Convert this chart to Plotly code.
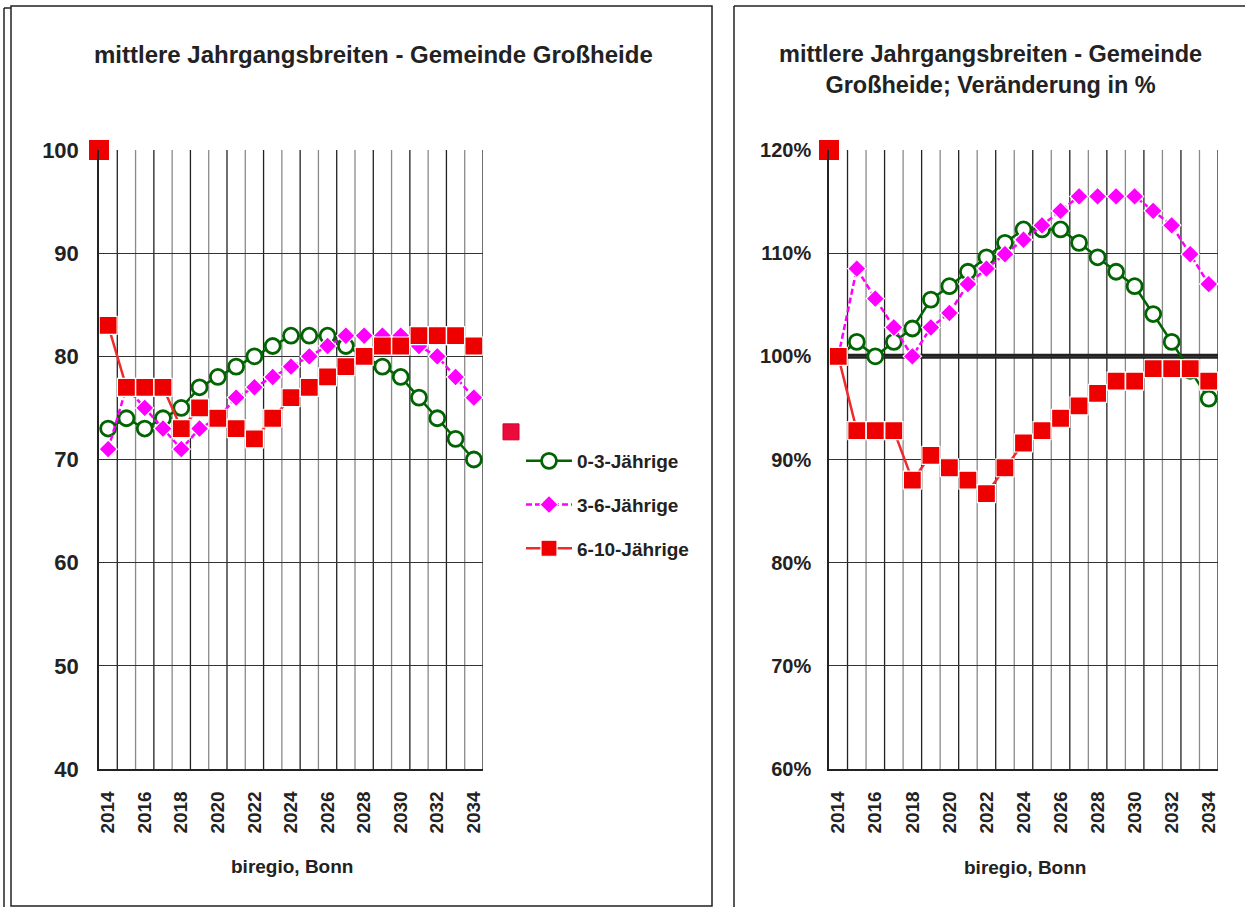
import plotly.graph_objects as go

# Jahre der Vorausberechnung
years = list(range(2014, 2035))
tick_years = years[::2]

# mittlere Jahrgangsbreiten (Personen je Altersjahrgang)
jb_0_3 = [73, 74, 73, 74, 75, 77, 78, 79, 80, 81, 82, 82, 82, 81, 80, 79, 78, 76, 74, 72, 70]
jb_3_6 = [71, 77, 75, 73, 71, 73, 74, 76, 77, 78, 79, 80, 81, 82, 82, 82, 82, 81, 80, 78, 76]
jb_6_10 = [83, 77, 77, 77, 73, 75, 74, 73, 72, 74, 76, 77, 78, 79, 80, 81, 81, 82, 82, 82, 81]

# Veränderung gegenüber 2014 in %
pct_0_3 = [100.0, 101.4, 100.0, 101.4, 102.7, 105.5, 106.8, 108.2, 109.6, 111.0, 112.3,
           112.3, 112.3, 111.0, 109.6, 108.2, 106.8, 104.1, 101.4, 98.6, 95.9]
pct_3_6 = [100.0, 108.5, 105.6, 102.8, 100.0, 102.8, 104.2, 107.0, 108.5, 109.9, 111.3,
           112.7, 114.1, 115.5, 115.5, 115.5, 115.5, 114.1, 112.7, 109.9, 107.0]
pct_6_10 = [100.0, 92.8, 92.8, 92.8, 88.0, 90.4, 89.2, 88.0, 86.7, 89.2, 91.6,
            92.8, 94.0, 95.2, 96.4, 97.6, 97.6, 98.8, 98.8, 98.8, 97.6]

# Indexmarken am Achsenursprung und Bezugslinie
index_abs = [100]
index_pct = [120]
basis_pct = 100

names = ["0-3-Jährige", "3-6-Jährige", "6-10-Jährige"]

W, H = 1245, 907


def px(x):
    return x / W


def py(y):
    return 1 - y / H


TXT = "Liberation Sans, Arial, sans-serif"
INK = "#222222"

GREEN = "#006400"
MAGENTA = "#FF00FF"
RED = "#EE0000"

styles = [
    dict(mode="lines+markers",
         line=dict(color=GREEN, width=2.5),
         marker=dict(symbol="circle", size=15, color="white", line=dict(color=GREEN, width=2.8))),
    dict(mode="lines+markers",
         line=dict(color=MAGENTA, width=2.5, dash="6px,3px"),
         marker=dict(symbol="diamond", size=14, color=MAGENTA, line=dict(color="white", width=1.2))),
    dict(mode="lines+markers",
         line=dict(color="#EE2a2a", width=2.5),
         marker=dict(symbol="square", size=18, color=RED, line=dict(color="white", width=1.2))),
]

fig = go.Figure()

# linkes Diagramm: absolute Werte
for i, (nm, vals) in enumerate(zip(names, [jb_0_3, jb_3_6, jb_6_10])):
    fig.add_trace(go.Scatter(x=years, y=vals, name=nm, xaxis="x", yaxis="y",
                             legendgroup=nm, cliponaxis=False, **styles[i]))

fig.add_trace(go.Scatter(x=[years[0] - 0.5], y=index_abs, mode="markers", xaxis="x", yaxis="y",
                         marker=dict(symbol="square", size=20, color=RED), cliponaxis=False,
                         showlegend=False, hoverinfo="skip"))
fig.add_trace(go.Scatter(x=[None], y=[None], mode="markers", name="", legend="legend2",
                         marker=dict(symbol="square", size=20, color="#EA0A3C",
                                     line=dict(color="#D0002a", width=1))))

# rechtes Diagramm: Veränderung in %
for i, (nm, vals) in enumerate(zip(names, [pct_0_3, pct_3_6, pct_6_10])):
    fig.add_trace(go.Scatter(x=years, y=vals, name=nm, xaxis="x2", yaxis="y2",
                             showlegend=False, cliponaxis=False, **styles[i]))

fig.add_trace(go.Scatter(x=[years[0] - 0.5], y=index_pct, mode="markers", xaxis="x2", yaxis="y2",
                         marker=dict(symbol="square", size=20, color=RED), cliponaxis=False,
                         showlegend=False, hoverinfo="skip"))

xrange = [years[0] - 0.5, years[-1] + 0.5]
tickfont_x = dict(family=TXT, size=19, color=INK, weight="bold")


def x_axis(domain, anchor):
    return dict(domain=domain, anchor=anchor, range=xrange, tickmode="array",
                tickvals=tick_years, ticktext=[str(y) for y in tick_years], tickangle=-90,
                showgrid=False, zeroline=False, showline=True, linecolor=INK, linewidth=1.5,
                ticks="", ticklabelstandoff=13, tickfont=tickfont_x, fixedrange=True,
                automargin=False)


def y_axis(domain, anchor, rng, suffix, fsize, standoff):
    return dict(domain=domain, anchor=anchor, range=rng, tickmode="linear", tick0=rng[0], dtick=10,
                ticksuffix=suffix, showgrid=True, gridcolor="#333333", gridwidth=1.2,
                zeroline=False, showline=True, linecolor=INK, linewidth=1.5, ticks="",
                ticklabelstandoff=standoff, automargin=False,
                tickfont=dict(family=TXT, size=fsize, color=INK, weight="bold"), fixedrange=True)


ydom = [py(769), py(150)]

shapes = []
# senkrechte Gitterlinien zwischen den Jahren
for xref, yref in [("x", "y"), ("x2", "y2")]:
    for k, yr in enumerate(years):
        shapes.append(dict(type="line", xref=xref, yref=yref, x0=yr + 0.5, x1=yr + 0.5,
                           y0=(40 if yref == "y" else 60), y1=(100 if yref == "y" else 120),
                           layer="below",
                           line=dict(color=INK if k % 2 == 0 else "#8a8a8a", width=1.3)))

# Bezugslinie 100 % im rechten Diagramm
shapes.append(dict(type="line", xref="x2", yref="y2", x0=xrange[0], x1=xrange[1],
                   y0=basis_pct, y1=basis_pct, layer="below", line=dict(color=INK, width=5)))

# Rahmen der beiden Diagrammblätter
frame = dict(color=INK, width=1.5)
shapes.append(dict(type="rect", xref="paper", yref="paper", x0=px(11), x1=px(712), y0=py(906), y1=py(6),
                   line=frame, layer="above"))
shapes.append(dict(type="line", xref="paper", yref="paper", x0=px(4), x1=px(4), y0=py(907), y1=py(8),
                   line=frame, layer="above"))
shapes.append(dict(type="line", xref="paper", yref="paper", x0=px(4), x1=px(11), y0=py(8), y1=py(8),
                   line=frame, layer="above"))
shapes.append(dict(type="line", xref="paper", yref="paper", x0=px(734), x1=px(734), y0=py(907), y1=py(6),
                   line=frame, layer="above"))
shapes.append(dict(type="line", xref="paper", yref="paper", x0=px(734), x1=px(1245), y0=py(6), y1=py(6),
                   line=frame, layer="above"))

annotations = [
    dict(text="mittlere Jahrgangsbreiten - Gemeinde Großheide", x=px(373), y=py(55),
         xref="paper", yref="paper", showarrow=False, xanchor="center", yanchor="middle",
         font=dict(family=TXT, size=24, color=INK, weight="bold")),
    dict(text="mittlere Jahrgangsbreiten - Gemeinde<br>Großheide; Veränderung in %", x=px(990), y=py(70),
         xref="paper", yref="paper", showarrow=False, xanchor="center", yanchor="middle",
         font=dict(family=TXT, size=23.5, color=INK, weight="bold")),
    dict(text="biregio, Bonn", x=px(292), y=py(866), xref="paper", yref="paper", showarrow=False,
         xanchor="center", yanchor="middle", font=dict(family=TXT, size=19, color=INK, weight="bold")),
    dict(text="biregio, Bonn", x=px(1025), y=py(867), xref="paper", yref="paper", showarrow=False,
         xanchor="center", yanchor="middle", font=dict(family=TXT, size=19, color=INK, weight="bold")),
]

fig.update_layout(
    width=W, height=H,
    margin=dict(l=0, r=0, t=0, b=0, autoexpand=False),
    paper_bgcolor="white", plot_bgcolor="white",
    xaxis=x_axis([px(99), px(483)], "y"),
    yaxis=y_axis(ydom, "x", [40, 100], "", 22, 14),
    xaxis2=x_axis([px(829), px(1218)], "y2"),
    yaxis2=y_axis(ydom, "x2", [60, 120], "%", 20, 12),
    shapes=shapes,
    annotations=annotations,
    showlegend=True,
    legend=dict(x=px(521), y=py(442), xanchor="left", yanchor="top", traceorder="grouped",
                tracegroupgap=16, itemwidth=46, bgcolor="rgba(0,0,0,0)",
                font=dict(family=TXT, size=19, color=INK, weight="bold")),
    legend2=dict(x=px(491), y=py(413), xanchor="left", yanchor="top", bgcolor="rgba(0,0,0,0)",
                 font=dict(family=TXT, size=19, color=INK, weight="bold")),
    hovermode=False,
)

fig.write_html("out.html")
